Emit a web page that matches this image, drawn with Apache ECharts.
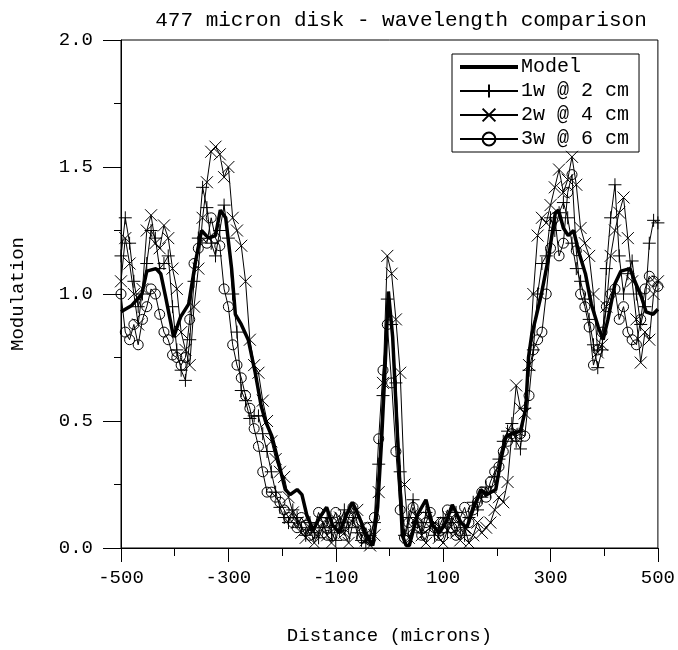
<!DOCTYPE html>
<html>
<head>
<meta charset="utf-8">
<script src="https://cdn.jsdelivr.net/npm/echarts@6/dist/echarts.min.js"></script>
<style>html,body{margin:0;padding:0;background:#fff}#c{width:678px;height:650px}</style>
</head>
<body>
<div id="c"></div>
<script>
var titleText = '477 micron disk - wavelength comparison';
var xAxisName = 'Distance (microns)';
var yAxisName = 'Modulation';
var seriesNames = ['Model', '1w @ 2 cm', '2w @ 4 cm', '3w @ 6 cm'];

var modelX = [-500,-480,-461,-452,-435,-426,-417,-402,-389,-374,-361,-350,-337,-324,-315,-305,-294,-287,-276,-263,-250,-239,-231,-219,-207,-194,-185,-172,-163,-154,-142,-130,-117,-106,-93,-80,-69,-56,-43,-31,-22,-15,-9,-2,6,15,24,31,37,52,68,80,93,105,117,133,144,157,170,181,198,207,217,228,244,254,259,265,272,283,296,309,315,324,333,343,352,365,376,389,398,407,420,431,448,457,469,478,491,500];
var modelY = [0.93,0.955,1.00,1.09,1.10,1.08,0.99,0.83,0.91,0.96,1.13,1.25,1.22,1.23,1.33,1.30,1.10,0.92,0.88,0.82,0.69,0.56,0.50,0.44,0.34,0.23,0.21,0.23,0.21,0.13,0.07,0.12,0.16,0.09,0.06,0.13,0.18,0.12,0.05,0.01,0.16,0.41,0.67,1.01,0.83,0.44,0.05,0.01,0.01,0.13,0.19,0.09,0.06,0.10,0.17,0.10,0.08,0.16,0.23,0.21,0.23,0.34,0.44,0.45,0.46,0.55,0.75,0.84,0.90,1.00,1.14,1.32,1.33,1.26,1.23,1.25,1.17,1.08,0.96,0.87,0.82,0.90,1.04,1.09,1.10,1.05,0.99,0.93,0.92,0.94];

var measX = [-500,-492,-484,-476,-468,-460,-452,-444,-436,-428,-420,-412,-404,-396,-388,-380,-372,-364,-356,-348,-340,-332,-324,-316,-308,-300,-292,-284,-276,-268,-260,-252,-244,-236,-228,-220,-212,-204,-196,-188,-180,-172,-164,-156,-148,-140,-132,-124,-116,-108,-100,-92,-84,-76,-68,-60,-52,-44,-36,-28,-20,-12,-4,4,12,20,28,36,44,52,60,68,76,84,92,100,108,116,124,132,140,148,156,164,172,180,188,196,204,212,220,228,236,244,252,260,268,276,284,292,300,308,316,324,332,340,348,356,364,372,380,388,396,404,412,420,428,436,444,452,460,468,476,484,492,500];

var w1Y = [1.15,1.30,1.20,1.05,0.95, 1.00,1.12,1.25,1.22,1.10, 1.12,1.15,0.95,0.78,0.70, 0.66,0.82,1.05,1.22,1.42, 1.34,1.20,1.15,1.25,1.35, 1.22,1.00,0.85,0.62,0.58, 0.51,0.52,0.52,0.45,0.38, 0.30,0.22,0.16,0.12,0.10, 0.15,0.12,0.08,0.05,0.10, 0.06,0.04,0.08,0.12,0.06, 0.03,0.10,0.15,0.08,0.12, 0.06,0.03,0.02,0.05,0.10, 0.33,0.60,0.98,0.88,0.65, 0.30,0.05,0.12,0.19,0.10, 0.06,0.14,0.10,0.05,0.08, 0.12,0.06,0.10,0.14,0.08, 0.05,0.12,0.18,0.15,0.20, 0.24,0.22,0.28,0.35,0.42, 0.46,0.49,0.42,0.39,0.55, 0.70,0.78,1.00,1.12,1.15, 1.30,1.25,1.32,1.36,1.30, 1.20,1.10,1.05,0.98,0.90, 0.80,0.71,0.78,1.10,1.30, 1.43,1.15,1.00,1.08,1.13, 1.00,0.88,0.95,1.20,1.29, 1.28];

var w2Y = [1.05,1.22,1.12,1.00,0.88, 1.02,1.25,1.31,1.20,1.18, 1.27,1.22,1.10,1.02,0.85, 0.78,0.72,0.95,1.10,1.30, 1.44,1.56,1.58,1.55,1.46, 1.50,1.30,1.25,1.19,1.05, 0.82,0.72,0.69,0.58,0.50, 0.42,0.35,0.30,0.28,0.20, 0.14,0.10,0.06,0.04,0.08, 0.02,0.06,0.10,0.05,0.02, 0.08,0.12,0.06,0.02,0.10, 0.15,0.08,0.03,0.01,0.05, 0.22,0.65,1.15,1.08,0.90, 0.69,0.25,0.04,0.08,0.12, 0.05,0.02,0.08,0.10,0.04, 0.02,0.07,0.12,0.06,0.03, 0.08,0.02,0.05,0.10,0.06, 0.08,0.10,0.15,0.20,0.18, 0.26,0.45,0.64,0.55,0.53, 0.72,1.00,1.23,1.30,1.28, 1.35,1.42,1.49,1.40,1.45, 1.54,1.43,1.26,1.20,1.15, 1.00,0.77,0.80,0.95,1.15, 1.25,1.32,1.38,1.22,1.05, 0.90,0.73,0.85,0.82,1.00, 1.05];

var w3Y = [1.00,0.85,0.82,0.88,0.80, 0.90,0.95,1.02,1.00,0.92, 0.85,0.82,0.76,0.75,0.72, 0.75,0.90,1.12,1.18,1.22, 1.20,1.30,1.22,1.19,1.02, 0.95,0.80,0.72,0.67,0.60, 0.55,0.47,0.40,0.30,0.22, 0.22,0.20,0.18,0.15,0.12, 0.10,0.08,0.12,0.09,0.05, 0.08,0.14,0.10,0.05,0.10, 0.14,0.08,0.05,0.12,0.16, 0.10,0.04,0.08,0.03,0.12, 0.43,0.70,0.88,0.65,0.38, 0.15,0.04,0.10,0.16,0.10, 0.05,0.10,0.14,0.08,0.05, 0.10,0.15,0.08,0.05,0.12, 0.16,0.10,0.15,0.18,0.22, 0.20,0.26,0.30,0.32,0.38, 0.42,0.45,0.44,0.45,0.44, 0.60,0.78,0.82,0.85,1.00, 1.18,1.30,1.15,1.20,1.40, 1.47,1.17,1.00,0.95,0.87, 0.72,0.78,0.85,0.95,1.00, 1.02,0.90,0.95,0.85,0.82, 0.80,0.90,1.02,1.07,1.05, 1.03];

function pairs(xs, ys) { return xs.map(function (x, i) { return [x, ys[i]]; }); }

var FONT = '"Liberation Mono", "Courier New", monospace';
var FS = 19;
var plusPath = 'path://M6,0L6,12M0,6L12,6';
var crossPath = 'path://M0,0L12,12M12,0L0,12';

function measSeries(name, ys, symbol, size) {
  return {
    name: name, type: 'line', data: pairs(measX, ys),
    symbol: symbol, symbolSize: size, showSymbol: true, showAllSymbol: true,
    lineStyle: { color: '#000', width: 1 },
    itemStyle: { color: 'rgba(0,0,0,0)', borderColor: '#000', borderWidth: 1 },
    emphasis: { disabled: true }, z: 2
  };
}

var chart = echarts.init(document.getElementById('c'));
chart.setOption({
  animation: false,
  backgroundColor: '#fff',
  textStyle: { fontFamily: FONT, color: '#000' },
  title: {
    text: titleText, left: 396, top: 5, textAlign: 'center',
    textStyle: { fontFamily: FONT, fontSize: 21, fontWeight: 'normal', color: '#000' }
  },
  grid: { left: 120, right: 18, top: 40, bottom: 97, show: true, borderColor: '#000', borderWidth: 1, backgroundColor: 'transparent' },
  legend: {
    left: 452, top: 54, orient: 'vertical',
    borderColor: '#000', borderWidth: 1, padding: [3, 10, 3, 6],
    itemGap: 4, itemWidth: 58, itemHeight: 16,
    textStyle: { fontFamily: FONT, fontSize: 20, lineHeight: 19, color: '#000', padding: [0, 0, 0, -2] },
    data: [
      { name: seriesNames[0], lineStyle: { width: 4 } },
      seriesNames[1], seriesNames[2], seriesNames[3]
    ]
  },
  xAxis: {
    type: 'value', min: -500, max: 500, interval: 200,
    name: xAxisName, nameLocation: 'middle', nameGap: 78,
    nameTextStyle: { fontFamily: FONT, fontSize: FS, color: '#000' },
    axisLine: { onZero: false, lineStyle: { color: '#000', width: 1 } },
    axisTick: { show: true, inside: false, length: 14, lineStyle: { color: '#000' } },
    minorTick: { show: true, splitNumber: 2, length: 8, lineStyle: { color: '#000' } },
    axisLabel: { fontFamily: FONT, fontSize: FS, color: '#000', margin: 20 },
    splitLine: { show: false }
  },
  yAxis: {
    type: 'value', min: 0, max: 2, interval: 0.5,
    name: yAxisName, nameLocation: 'middle', nameGap: 94, nameRotate: 90,
    nameTextStyle: { fontFamily: FONT, fontSize: FS, color: '#000' },
    axisLine: { show: true, onZero: false, lineStyle: { color: '#000', width: 1 } },
    axisTick: { show: true, inside: false, length: 18, lineStyle: { color: '#000' } },
    minorTick: { show: true, splitNumber: 2, length: 7, lineStyle: { color: '#000' } },
    axisLabel: { fontFamily: FONT, fontSize: FS, color: '#000', margin: 28, formatter: function (v) { return v.toFixed(1); } },
    splitLine: { show: false }
  },
  series: [
    {
      name: seriesNames[0], type: 'line', data: pairs(modelX, modelY),
      symbol: 'circle', symbolSize: 0, showSymbol: false,
      lineStyle: { color: '#000', width: 3.5 },
      itemStyle: { color: 'rgba(0,0,0,0)', borderWidth: 0 },
      emphasis: { disabled: true }, z: 5
    },
    measSeries(seriesNames[1], w1Y, plusPath, 13),
    measSeries(seriesNames[2], w2Y, crossPath, 12),
    measSeries(seriesNames[3], w3Y, 'circle', 10)
  ]
});
</script>
</body>
</html>
